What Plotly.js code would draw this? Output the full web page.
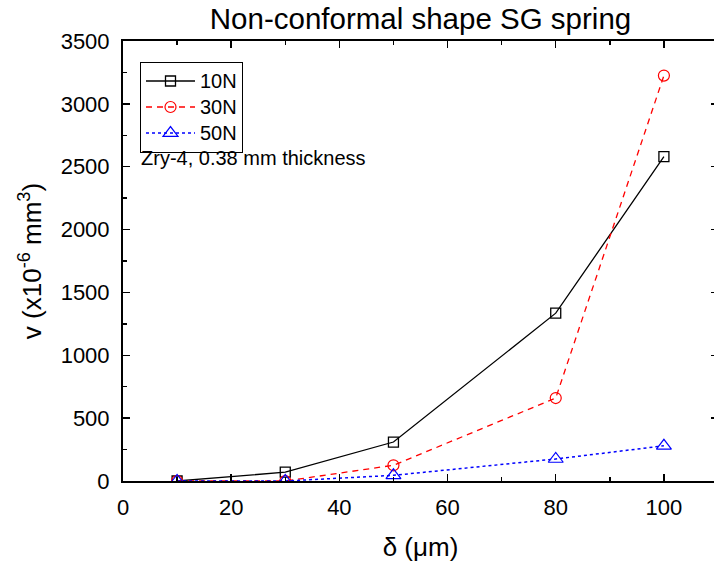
<!DOCTYPE html>
<html>
<head>
<meta charset="utf-8">
<script src="https://cdn.plot.ly/plotly-3.0.1.min.js"></script>
<style>
html,body{margin:0;padding:0;overflow:hidden;background:#fff;}
#chart{width:720px;height:570px;}
</style>
</head>
<body>
<div id="chart"></div>
<script>
const delta = [10, 30, 50, 80, 100];
const v10N = [0, 70, 310, 1335, 2580];
const v30N = [0, 0, 125, 660, 3225];
const v50N = [0, 0, 45, 175, 280];
const seriesNames = ['10N', '30N', '50N'];
const titleText = 'Non-conformal shape SG spring';
const noteText = 'Zry-4, 0.38 mm thickness';

const font = 'Arial, "Liberation Sans", sans-serif';
const legendName = n => '<span style="font-size:20px">' + n + '</span>';

const traces = [
  {x: delta, y: v10N, name: legendName(seriesNames[0]), mode: 'lines+markers',
   line: {color: '#000', width: 1.3, dash: 'solid'},
   marker: {symbol: 'square-open', size: 10, color: '#000', line: {width: 1.3}}},
  {x: delta, y: v30N, name: legendName(seriesNames[1]), mode: 'lines+markers',
   line: {color: '#ff0000', width: 1.3, dash: '6px,5px'},
   marker: {symbol: 'circle-open', size: 11, color: '#ff0000', line: {width: 1.2}}},
  {x: delta, y: v50N, name: legendName(seriesNames[2]), mode: 'lines+markers',
   line: {color: '#0000ff', width: 1.5, dash: 'dot'},
   marker: {symbol: 'triangle-up-open', size: 13, color: '#0000ff', line: {width: 1.2}}}
];

const axisCommon = {
  showline: true, linecolor: '#000', linewidth: 2, mirror: 'allticks',
  ticks: 'inside', ticklen: 7, tickwidth: 1.5, tickcolor: '#000',
  showgrid: false, zeroline: false,
  tickfont: {family: font, size: 22, color: '#000'}
};

const layout = {
  width: 720, height: 570,
  margin: {l: 123, r: 2, t: 41, b: 89},
  paper_bgcolor: '#fff', plot_bgcolor: '#fff',
  font: {family: font, color: '#000'},
  title: {text: titleText, font: {family: font, size: 29.5, color: '#000'},
          x: 0.5, xref: 'paper', y: 1 - 19/570, yanchor: 'middle'},
  xaxis: Object.assign({}, axisCommon, {
    range: [0, 110], tickmode: 'linear', tick0: 0, dtick: 20,
    minor: {dtick: 10, ticks: 'inside', ticklen: 4, tickwidth: 1.5, tickcolor: '#000'},
    ticklabelstandoff: 6,
    title: {text: 'δ (μm)', font: {family: font, size: 26, color: '#000'}, standoff: 18}
  }),
  yaxis: Object.assign({}, axisCommon, {
    range: [0, 3500], tickmode: 'linear', tick0: 0, dtick: 500,
    minor: {dtick: 250, ticks: 'inside', ticklen: 4, tickwidth: 1.5, tickcolor: '#000'},
    ticklabelstandoff: 7,
    title: {text: 'v (x10<sup>-6</sup> mm<sup>3</sup>)', font: {family: font, size: 26, color: '#000'}, standoff: 12}
  }),
  showlegend: true,
  legend: {x: 17/595, y: 1 - 21/440, xanchor: 'left', yanchor: 'top',
           bordercolor: '#000', borderwidth: 1, bgcolor: '#fff',
           font: {family: font, size: 17.7, color: '#000'},
           tracegroupgap: 0, itemwidth: 49},
  annotations: [{
    text: noteText, xref: 'paper', yref: 'paper', x: 16/595, y: 1 - 117/440,
    xanchor: 'left', yanchor: 'middle', showarrow: false,
    font: {family: font, size: 20, color: '#000'}
  }]
};

Plotly.newPlot('chart', traces, layout, {displayModeBar: false, staticPlot: true});
</script>
</body>
</html>
